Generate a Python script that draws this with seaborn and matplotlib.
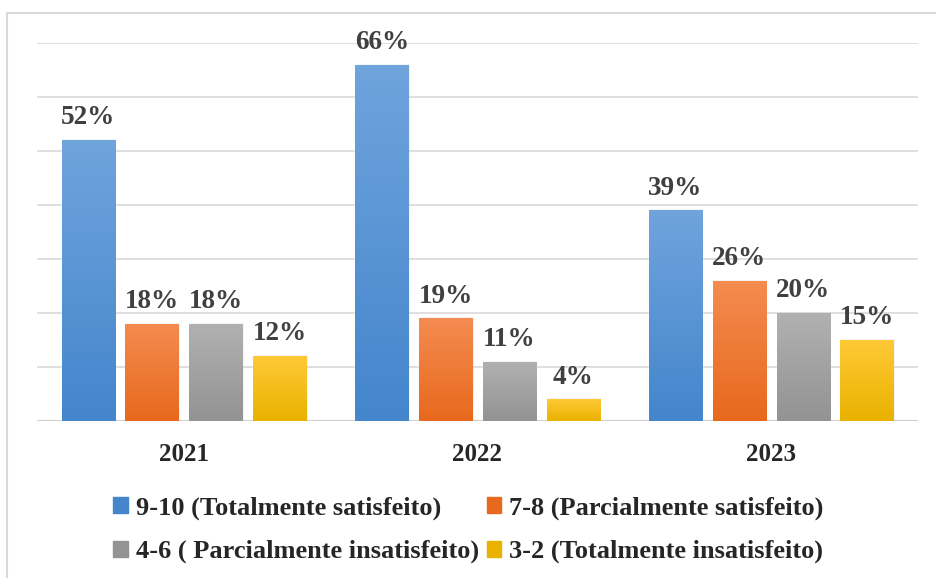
import pandas as pd
import matplotlib.pyplot as plt
import numpy as np
import seaborn as sns
from matplotlib.colors import LinearSegmentedColormap
from matplotlib.patches import Rectangle

years = ['2021', '2022', '2023']
series = ['9-10 (Totalmente satisfeito)', '7-8 (Parcialmente satisfeito)',
          '4-6 ( Parcialmente insatisfeito)', '3-2 (Totalmente insatisfeito)']
v_9_10 = [52, 66, 39]
v_7_8 = [18, 19, 26]
v_4_6 = [18, 11, 20]
v_3_2 = [12, 4, 15]

rows = []
for s, vals in zip(series, [v_9_10, v_7_8, v_4_6, v_3_2]):
    for y, v in zip(years, vals):
        rows.append({'ano': y, 'grupo': s, 'valor': v})
data = pd.DataFrame(rows)

base = ['#4485cc', '#e8691d', '#939393', '#e9b200']
tops = ['#6fa4dd', '#f48b50', '#b1b1b1', '#ffc936']

sns.set_style('white')
plt.rcParams['font.family'] = ['Liberation Serif', 'DejaVu Serif']

fig = plt.figure(figsize=(9.37, 5.78), dpi=100)
ax = fig.add_axes([37/937, 1-421/578, 881/937, 378/578])

sns.barplot(data=data, x='ano', y='valor', hue='grupo', palette=base,
            width=0.87, gap=0.17, ax=ax, legend=False, zorder=3)

ax.set_ylim(0, 70)
ax.set_xlim(-0.5, 2.5)
ax.set_yticks(np.arange(0, 71, 10))
ax.yaxis.grid(True, color='#d9d9d9', lw=1.2, zorder=0)
ax.set_yticklabels([])
ax.tick_params(left=False, bottom=False)
for sp in ax.spines.values():
    sp.set_visible(False)
ax.axhline(0, color='#d0d0d0', lw=1.5, zorder=2)
ax.set_xlabel('')
ax.set_ylabel('')
for t in ax.get_xticklabels():
    t.set_fontweight('bold')
    t.set_fontsize(18)
ax.tick_params(axis='x', pad=12)

# gradient fill on bars
for i, cont in enumerate(ax.containers):
    cmap = LinearSegmentedColormap.from_list('g', [base[i], tops[i]])
    grad = np.linspace(0, 1, 100).reshape(-1, 1)
    for p in cont:
        x0, y0 = p.get_x(), p.get_y()
        w, h = p.get_width(), p.get_height()
        # soft shadow
        ax.add_patch(Rectangle((x0 + 0.005, y0), w, h + 0.2, color='#000000',
                               alpha=0.05, zorder=2.5, lw=0))
        im = ax.imshow(grad, extent=[x0, x0 + w, y0, y0 + h], origin='lower',
                       cmap=cmap, aspect='auto', zorder=3.5)
        im.set_clip_path(p)
    ax.bar_label(cont, labels=[f'{int(v)}%' for v in cont.datavalues],
                 padding=7, fontsize=19.5, fontweight='bold', color='#404040',
                 zorder=5)
ax.set_xlim(-0.5, 2.5)
ax.set_ylim(0, 70)

handles = [Rectangle((0, 0), 1, 1, color=c) for c in base]
order = [0, 2, 1, 3]
fig.legend([handles[k] for k in order], [series[k] for k in order],
           loc='center', bbox_to_anchor=(0.5, 1-530/578), ncol=2, frameon=False,
           prop={'family': 'Liberation Serif', 'weight': 'bold', 'size': 19},
           handlelength=0.55, handleheight=0.55, handletextpad=0.3,
           columnspacing=0.3, labelspacing=0.75)

fig.patches.append(Rectangle((7/937, -0.1), 1.2, 1 - 13/578 + 0.1,
                             transform=fig.transFigure, fill=False,
                             edgecolor='#d9d9d9', lw=1.5))

fig.savefig('out.png', dpi=100)
